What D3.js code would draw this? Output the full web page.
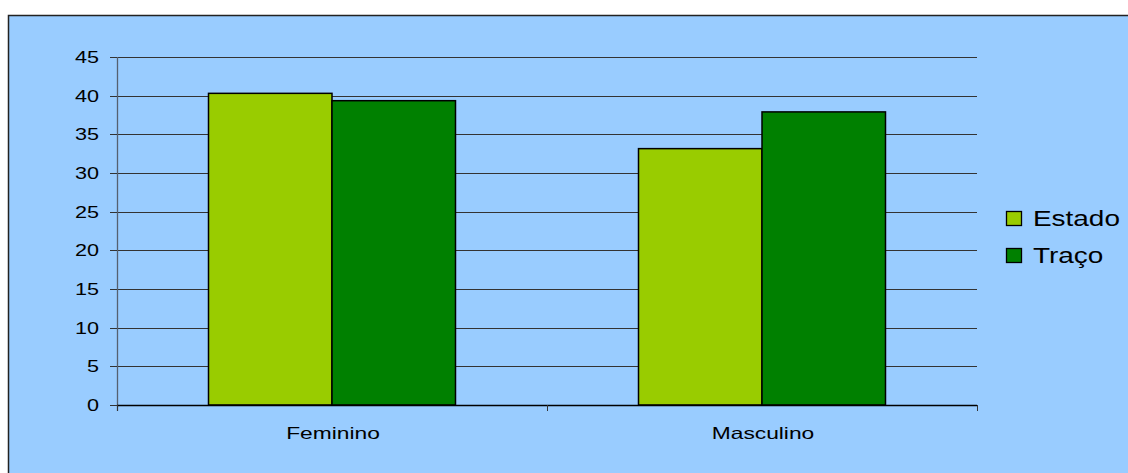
<!DOCTYPE html>
<html>
<head>
<meta charset="utf-8">
<script src="https://cdn.jsdelivr.net/npm/d3@7"></script>
<style>
  body { margin: 0; background: #ffffff; }
  svg { display: block; }
  text { font-family: "Liberation Sans", Arial, sans-serif; fill: #000; }
</style>
</head>
<body>
<div id="chart"></div>
<script>
const categories = ["Feminino", "Masculino"];
const series = ["Estado", "Traço"];
const estado = [40.3, 33.15];
const traco = [39.35, 37.9];
const yTicks = [0, 5, 10, 15, 20, 25, 30, 35, 40, 45];
const colors = ["#99CC00", "#008000"];

const width = 1128, height = 473;
const plot = { left: 117, right: 977, top: 57, bottom: 405 };

const svg = d3.select("#chart").append("svg")
  .attr("width", width)
  .attr("height", height);

// fond bleu avec cadre
svg.append("rect")
  .attr("x", 8.5).attr("y", 15.5)
  .attr("width", width + 20).attr("height", height)
  .attr("fill", "#99CCFF")
  .attr("stroke", "#222")
  .attr("stroke-width", 1.5);

const y = d3.scaleLinear().domain([0, 45]).range([plot.bottom, plot.top]);
const x0 = d3.scaleBand().domain(categories).range([plot.left, plot.right]).padding(0);
const x1 = d3.scaleBand().domain(series).range([0, x0.bandwidth()])
  .paddingInner(0).paddingOuter(0.741);

// grille
svg.append("g")
  .selectAll("line")
  .data(yTicks.filter(d => d > 0))
  .enter().append("line")
  .attr("x1", plot.left).attr("x2", plot.right)
  .attr("y1", d => Math.round(y(d)) + 0.5)
  .attr("y2", d => Math.round(y(d)) + 0.5)
  .attr("stroke", "#333")
  .attr("stroke-width", 1);

// barres
const values = { "Estado": estado, "Traço": traco };
const groups = svg.append("g")
  .selectAll("g")
  .data(categories)
  .enter().append("g")
  .attr("transform", d => `translate(${x0(d)},0)`);

groups.selectAll("rect")
  .data((c, i) => series.map((s, j) => ({ s, j, v: values[s][i] })))
  .enter().append("rect")
  .attr("x", d => x1(d.s))
  .attr("y", d => y(d.v))
  .attr("width", x1.bandwidth())
  .attr("height", d => y(0) - y(d.v))
  .attr("fill", d => colors[d.j])
  .attr("stroke", "#000")
  .attr("stroke-width", 1.5);

// axe Y
svg.append("line")
  .attr("x1", plot.left + 0.5).attr("x2", plot.left + 0.5)
  .attr("y1", plot.top).attr("y2", plot.bottom + 6)
  .attr("stroke", "#556070").attr("stroke-width", 1.3);

const yAxis = svg.append("g");
yAxis.selectAll("line")
  .data(yTicks)
  .enter().append("line")
  .attr("x1", plot.left - 7).attr("x2", plot.left)
  .attr("y1", d => Math.round(y(d)) + 0.5)
  .attr("y2", d => Math.round(y(d)) + 0.5)
  .attr("stroke", "#333");

yAxis.selectAll("text")
  .data(yTicks)
  .enter().append("text")
  .attr("transform", d => `translate(99,${y(d) + 6}) scale(1.27,1)`)
  .attr("text-anchor", "end")
  .style("font-size", "17px")
  .text(d => d);

// axe X
svg.append("line")
  .attr("x1", plot.left).attr("x2", plot.right)
  .attr("y1", plot.bottom + 0.5).attr("y2", plot.bottom + 0.5)
  .attr("stroke", "#000").attr("stroke-width", 1.3);

const xTicks = categories.map(c => x0(c)).concat([plot.right]);
svg.append("g")
  .selectAll("line")
  .data(xTicks)
  .enter().append("line")
  .attr("x1", d => d + 0.5).attr("x2", d => d + 0.5)
  .attr("y1", plot.bottom).attr("y2", plot.bottom + 6)
  .attr("stroke", "#333");

svg.append("g")
  .selectAll("text")
  .data(categories)
  .enter().append("text")
  .attr("transform", d => `translate(${x0(d) + x0.bandwidth() / 2 + 1},439) scale(1.38,1)`)
  .attr("text-anchor", "middle")
  .style("font-size", "16.5px")
  .text(d => d);

// légende
const legend = svg.append("g")
  .selectAll("g")
  .data(series)
  .enter().append("g")
  .attr("transform", (d, i) => `translate(1006,${211 + i * 37})`);

legend.append("rect")
  .attr("x", 0.5).attr("y", 0.5)
  .attr("width", 15).attr("height", 14)
  .attr("fill", (d, i) => colors[i])
  .attr("stroke", "#000")
  .attr("stroke-width", 1.3);

legend.append("text")
  .attr("transform", "translate(27,15) scale(1.27,1)")
  .style("font-size", "22px")
  .text(d => d);
</script>
</body>
</html>
